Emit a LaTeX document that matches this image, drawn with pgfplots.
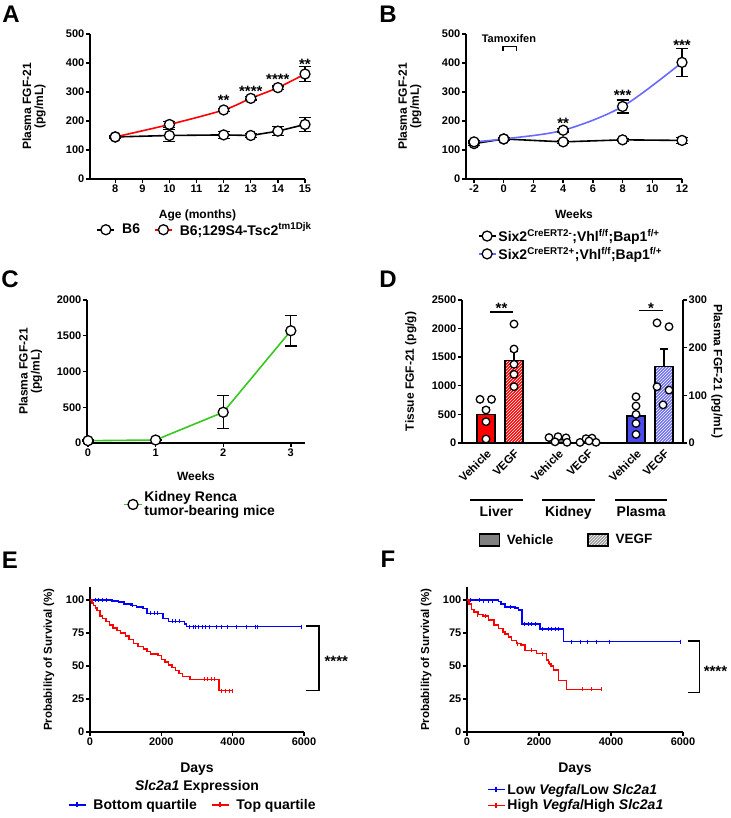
\documentclass[border=0pt]{standalone}
\usepackage{pgfplots}
\pgfplotsset{compat=1.18}
\usepackage{fontspec}
\setmainfont{Liberation Sans}
\usetikzlibrary{patterns}
\definecolor{gpred}{RGB}{255,0,0}
\definecolor{gpblueB}{RGB}{105,105,255}
\definecolor{gpblueD}{RGB}{75,75,235}
\definecolor{gpblueDh}{RGB}{110,110,240}
\definecolor{gpgreen}{RGB}{55,200,30}
\definecolor{kmblue}{RGB}{0,0,255}
\definecolor{kmred}{RGB}{255,0,0}
\newcommand{\fs}[1]{\fontsize{#1}{#1}\selectfont\bfseries}
\pgfplotsset{
  gp/.style={
    scale only axis, clip=false, anchor=south west,
    axis x line*=bottom, axis y line*=left,
    axis line style={-, line width=1.4pt, black},
    tick align=outside, major tick length=4pt,
    tick style={line width=1.4pt, black},
    tick label style={font=\fs{11}, inner sep=1.5pt},
    label style={font=\fs{12}},
    /pgf/number format/assume math mode=true,
    /pgf/number format/1000 sep={},
    legend style={draw=none, fill=none, font=\fs{14}},
    legend cell align=left,
    ylabel style={align=center},
  },
  ptline/.style={line width=1.6pt, mark=*, mark size=5pt, mark options={fill=white, draw=black, line width=1.3pt, solid}},
  ebars/.style={/pgfplots/error bars/y dir=both, /pgfplots/error bars/y explicit,
    /pgfplots/error bars/error bar style={line width=1.3pt, black},
    /pgfplots/error bars/error mark options={rotate=90, line width=1.3pt, mark size=6pt, black}},
  ebarsup/.style={/pgfplots/error bars/y dir=plus, /pgfplots/error bars/y explicit,
    /pgfplots/error bars/error bar style={line width=1.2pt, black},
    /pgfplots/error bars/error mark options={rotate=90, line width=1.2pt, mark size=4pt, black}},
  dots/.style={only marks, mark=*, mark size=3.8pt, mark options={fill=white, draw=black, line width=1.3pt}},
  km/.style={const plot, line width=1.5pt},
  cens/.style={only marks, mark=|, mark size=2pt, line width=1pt},
}
\begin{document}
\begin{tikzpicture}
\path[use as bounding box] (0,0) rectangle (730pt,818pt);

% ---------------- A ----------------
\begin{axis}[gp, at={(90pt,639pt)}, width=215pt, height=145pt,
  xmin=7.07, xmax=15, ymin=0, ymax=500, xtick={8,...,15}, ytick={0,100,...,500},
  xlabel={Age (months)}, ylabel={Plasma FGF-21\\(pg/mL)},
  xlabel style={at={(axis description cs:0.5,-0.19)}, anchor=north},
  ylabel style={at={(axis description cs:-0.19,0.5)}, anchor=south},
  legend columns=2,
  legend style={at={(axis description cs:0.535,-0.35)}, anchor=center,
    /tikz/every odd column/.append style={column sep=5pt},
    /tikz/every even column/.append style={column sep=12pt}},
]
\addplot[black, ptline, ebars] coordinates {(8,145) +- (0,4) (10,150) +- (0,20) (12,152) +- (0,12) (13,150) +- (0,6) (14,165) +- (0,15) (15,188) +- (0,25)};
\addlegendentry{B6}
\addplot[gpred, ptline, smooth, ebars] coordinates {(8,145) +- (0,3) (10,188) +- (0,10) (12,238) +- (0,6) (13,278) +- (0,6) (14,315) +- (0,6) (15,362) +- (0,26)};
\addlegendentry{B6;129S4-Tsc2\textsuperscript{tm1Djk}}
\node[font=\fs{15}] at (axis cs:12,270) {**};
\node[font=\fs{15}] at (axis cs:13,303) {****};
\node[font=\fs{15}] at (axis cs:14,345) {****};
\node[font=\fs{15}] at (axis cs:15,397) {**};
\end{axis}

% ---------------- B ----------------
\begin{axis}[gp, at={(466pt,639pt)}, width=216pt, height=145pt,
  xmin=-2.54, xmax=12, ymin=0, ymax=500, xtick={-2,0,...,12}, ytick={0,100,...,500},
  xlabel={Weeks}, ylabel={Plasma FGF-21\\(pg/mL)},
  xlabel style={at={(axis description cs:0.5,-0.19)}, anchor=north},
  ylabel style={at={(axis description cs:-0.19,0.5)}, anchor=south},
  legend style={at={(axis description cs:0.486,-0.455)}, anchor=center,
    /tikz/every row/.append style={row sep=2pt}},
]
\addplot[black, ptline, ebars] coordinates {(-2,122) +- (0,6) (0,138) +- (0,5) (4,128) +- (0,5) (8,135) +- (0,5) (12,133) +- (0,10)};
\addlegendentry{Six2\textsuperscript{CreERT2-};Vhl\textsuperscript{f/f};Bap1\textsuperscript{f/+}}
\addplot[gpblueB, ptline, smooth, ebars] coordinates {(-2,128) +- (0,5) (0,138) +- (0,5) (4,168) +- (0,6) (8,250) +- (0,22) (12,402) +- (0,48)};
\addlegendentry{Six2\textsuperscript{CreERT2+};Vhl\textsuperscript{f/f};Bap1\textsuperscript{f/+}}
\draw[line width=1.3pt] (axis cs:-0.05,443) -- (axis cs:-0.05,457) -- (axis cs:0.85,457) -- (axis cs:0.85,443);
\node[font=\fs{11}] at (axis cs:0.35,484) {Tamoxifen};
\node[font=\fs{15}] at (axis cs:4,193) {**};
\node[font=\fs{15}] at (axis cs:8,290) {***};
\node[font=\fs{15}] at (axis cs:12,462) {***};
\end{axis}

% ---------------- C ----------------
\begin{axis}[gp, at={(87pt,375pt)}, width=218pt, height=143pt,
  xmin=-0.015, xmax=3.21, ymin=0, ymax=2000, xtick={0,1,2,3}, ytick={0,500,...,2000},
  xlabel={Weeks}, ylabel={Plasma FGF-21\\(pg/mL)},
  xlabel style={at={(axis description cs:0.5,-0.18)}, anchor=north},
  ylabel style={at={(axis description cs:-0.19,0.5)}, anchor=south},
  legend style={at={(axis description cs:0.52,-0.43)}, anchor=center, cells={align=left}},
]
\addplot[gpgreen, ptline, ebars] coordinates {(0,32) +- (0,10) (1,42) +- (0,10) (2,430) +- (0,232) (3,1570) +- (0,215)};
\addlegendentry{Kidney Renca\\tumor-bearing mice}
\end{axis}

% ---------------- D (left axis) ----------------
\begin{axis}[gp, at={(462pt,375pt)}, width=221pt, height=143pt,
  xmin=0, xmax=22.1, ymin=0, ymax=2500, ytick={0,500,...,2500},
  xtick={2.4,5.2,9.6,12.6,17.4,20.2},
  xticklabels={Vehicle,VEGF,Vehicle,VEGF,Vehicle,VEGF},
  xtick style={draw=none},
  xticklabel style={rotate=45, anchor=north east, font=\fs{11.5}, inner sep=1pt},
  ylabel={Tissue FGF-21 (pg/g)},
  ylabel style={at={(axis description cs:-0.19,0.5)}, anchor=south},
  legend columns=2,
  legend style={at={(axis description cs:0.473,-0.678)}, anchor=center, font=\fs{13.5},
    /tikz/every odd column/.append style={column sep=5pt},
    /tikz/every even column/.append style={column sep=32pt}},
]
\addlegendimage{legend image code/.code={\draw[fill=gray, draw=black, line width=1.3pt] (0pt,-6pt) rectangle (20pt,6pt);}}
\addlegendentry{Vehicle}
\addlegendimage{legend image code/.code={\draw[fill=gray!80, draw=black, line width=1.3pt, postaction={pattern=north east lines, pattern color=white}] (0pt,-6pt) rectangle (20pt,6pt);}}
\addlegendentry{VEGF}
\addplot[forget plot, ybar, bar width=18pt, bar shift=0pt, fill=gpred, draw=black, line width=1.2pt, ebarsup] coordinates {(2.4,501) +- (0,116)};
\addplot[forget plot, ybar, bar width=18pt, bar shift=0pt, fill=gpred, draw=black, line width=1.2pt, postaction={pattern=north east lines, pattern color=white}, ebarsup] coordinates {(5.2,1446) +- (0,150)};
\addplot[forget plot, ybar, bar width=18pt, bar shift=0pt, fill=gray, draw=black, line width=1.2pt] coordinates {(9.6,60)};
\addplot[forget plot, ybar, bar width=18pt, bar shift=0pt, fill=gray, draw=black, line width=1.2pt, postaction={pattern=north east lines, pattern color=white}] coordinates {(12.6,40)};
\addplot[forget plot, dots] coordinates {(1.8,763) (2.95,763) (2.4,577) (2.4,373) (2.4,70)};
\addplot[forget plot, dots] coordinates {(5.2,2080) (5.2,1643) (5.2,1376) (5.2,1201) (5.2,985)};
\addplot[forget plot, dots] coordinates {(8.7,95) (9.6,110) (10.4,90) (9.3,20) (10.5,12)};
\addplot[forget plot, dots] coordinates {(11.8,10) (12.4,75) (13.0,85) (13.4,12) (12.7,35)};
\draw[line width=1.4pt] (axis cs:2.8,2290) -- (axis cs:5.1,2290);
\node[font=\fs{15}] at (axis cs:3.95,2360) {**};
\end{axis}

% ---------------- D (right axis, plasma) ----------------
\begin{axis}[gp, at={(462pt,375pt)}, width=221pt, height=143pt,
  axis y line*=right, axis x line=none,
  xmin=0, xmax=22.1, ymin=0, ymax=300, ytick={0,100,200,300},
  ylabel={Plasma FGF-21 (pg/mL)},
  ylabel style={at={(axis description cs:1.112,0.5)}, anchor=south, rotate=180},
]
\addplot[forget plot, ybar, bar width=18pt, bar shift=0pt, fill=gpblueD, draw=black, line width=1.2pt] coordinates {(17.4,56.5)};
\addplot[forget plot, ybar, bar width=18pt, bar shift=0pt, fill=gpblueDh, draw=black, line width=1.2pt, postaction={pattern=north east lines, pattern color=white}, ebarsup] coordinates {(20.2,161) +- (0,36)};
\addplot[forget plot, dots] coordinates {(17.4,97) (17.4,77.6) (17.4,60) (17.4,41) (17.4,18)};
\addplot[forget plot, dots] coordinates {(19.5,252) (20.7,244) (19.5,118) (20.7,111) (20.1,80)};
\draw[line width=1.4pt] (axis cs:17.7,277.5) -- (axis cs:20.07,277.5);
\node[font=\fs{15}] at (axis cs:18.9,283.5) {*};
\end{axis}

% ---------------- E ----------------
\begin{axis}[gp, at={(90pt,86pt)}, width=214pt, height=145pt,
  xmin=0, xmax=6000, ymin=0, ymax=110, xtick={0,2000,4000,6000}, ytick={0,25,50,75,100},
  xlabel={Days}, ylabel={Probability of Survival (\%)},
  xlabel style={at={(axis description cs:0.5,-0.19)}, anchor=north, font=\fs{14}},
  ylabel style={at={(axis description cs:-0.15,0.5)}, anchor=south, font=\fs{11.5}},
  legend columns=2,
  legend style={at={(axis description cs:0.48,-0.503)}, anchor=center,
    /tikz/every odd column/.append style={column sep=5pt},
    /tikz/every even column/.append style={column sep=12pt}},
]
\addlegendimage{kmblue, line width=1.5pt, mark=|, mark size=2.5pt}
\addlegendentry{Bottom quartile}
\addlegendimage{kmred, line width=1.5pt, mark=|, mark size=2.5pt}
\addlegendentry{Top quartile}
\addplot[forget plot, km, kmblue] coordinates {(0,100) (560,100) (620,99.3) (800,98.5) (950,97) (1150,96) (1300,95) (1480,93.5) (1600,90) (1980,90) (2050,86) (2200,84) (2650,82) (2700,80) (5950,80)};
\addplot[forget plot, cens, kmblue] coordinates {(150,100) (250,100) (350,100) (450,100) (1200,96) (1700,90) (1800,90) (1900,90) (2300,84) (2400,84) (2500,84) (2800,80) (2900,80) (2950,80) (3050,80) (3150,80) (3250,80) (3350,80) (3550,80) (3700,80) (3850,80) (4100,80) (4400,80) (4650,80) (4700,80) (5920,80)};
\addplot[forget plot, km, kmred] coordinates {(0,100) (50,98) (100,96) (150,94) (200,92) (280,88) (350,86) (450,84) (550,81) (650,79) (750,77) (850,75) (1000,73) (1100,70) (1215,67) (1350,65) (1500,63) (1600,61) (1700,59) (1900,58) (2000,55) (2100,53) (2200,51) (2300,49) (2400,46.5) (2500,44.5) (2600,42) (2800,40) (3610,40) (3620,31.3) (4000,31.3)};
\addplot[forget plot, cens, kmred] coordinates {(3200,40) (3300,40) (3400,40) (3500,40) (3700,31.3) (3800,31.3) (3900,31.3) (4000,31.3)};
\draw[line width=1.3pt] (axis cs:6050,80.5) -- (axis cs:6420,80.5) -- (axis cs:6420,31.3) -- (axis cs:6050,31.3);
\node[font=\fs{15}, anchor=west] at (axis cs:6480,53.7) {****};
\end{axis}

% ---------------- F ----------------
\begin{axis}[gp, at={(467pt,86pt)}, width=216pt, height=145pt,
  xmin=0, xmax=6000, ymin=0, ymax=110, xtick={0,2000,4000,6000}, ytick={0,25,50,75,100},
  xlabel={Days}, ylabel={Probability of Survival (\%)},
  xlabel style={at={(axis description cs:0.5,-0.19)}, anchor=north, font=\fs{14}},
  ylabel style={at={(axis description cs:-0.148,0.5)}, anchor=south, font=\fs{11.5}},
  legend style={at={(axis description cs:0.505,-0.452)}, anchor=center,
    /tikz/every row/.append style={row sep=2pt}},
]
\addlegendimage{kmblue, line width=1.5pt, mark=|, mark size=2.5pt}
\addlegendentry{Low \textit{Vegfa}/Low \textit{Slc2a1}}
\addlegendimage{kmred, line width=1.5pt, mark=|, mark size=2.5pt}
\addlegendentry{High \textit{Vegfa}/High \textit{Slc2a1}}
\addplot[forget plot, km, kmblue] coordinates {(0,100) (870,99) (950,97) (1055,95) (1330,94) (1430,92.5) (1530,82) (2030,78) (2680,68.5) (5930,68.5)};
\addplot[forget plot, cens, kmblue] coordinates {(100,100) (350,100) (450,99) (600,99) (700,99) (1200,95) (1600,82) (1700,82) (1800,82) (1900,82) (2100,78) (2250,78) (2350,78) (2450,78) (2550,78) (2900,68.5) (3150,68.5) (3350,68.5) (3600,68.5) (3950,68.5) (5930,68.5)};
\addplot[forget plot, km, kmred] coordinates {(0,100) (60,97) (130,93) (200,91) (315,89) (450,88) (592,85) (750,81) (870,78.5) (1000,76) (1055,74.5) (1150,72) (1240,69.5) (1380,67) (1500,66) (1611,62) (1935,59.5) (2213,54.5) (2260,52) (2330,50) (2400,47) (2537,39) (2769,32.3) (3741,32.3)};
\addplot[forget plot, cens, kmred] coordinates {(300,89) (500,88) (1400,67) (1800,62) (2100,59.5) (2300,52) (3200,32.3) (3450,32.3) (3741,32.3)};
\draw[line width=1.3pt] (axis cs:6130,69) -- (axis cs:6450,69) -- (axis cs:6450,30) -- (axis cs:6130,30);
\node[font=\fs{15}, anchor=west] at (axis cs:6480,46) {****};
\end{axis}

% ---------------- annotations in pixel coordinates ----------------
\begin{scope}[x=1pt, y=-1pt, shift={(0pt,818pt)}]
\node[font=\fs{24}] at (11,14.5) {A};
\node[font=\fs{24}] at (388,14.5) {B};
\node[font=\fs{24}] at (10,279.5) {C};
\node[font=\fs{24}] at (388,279.5) {D};
\node[font=\fs{24}] at (10,560) {E};
\node[font=\fs{24}] at (388,559.5) {F};
% D group lines
\draw[line width=1.4pt] (470,500) -- (522.7,500);
\draw[line width=1.4pt] (541.7,500) -- (595,500);
\draw[line width=1.4pt] (615,500) -- (667.3,500);
\node[font=\fs{14}, anchor=base] at (496.4,517) {Liver};
\node[font=\fs{14}, anchor=base] at (568.4,517) {Kidney};
\node[font=\fs{14}, anchor=base] at (641.2,517) {Plasma};
% E legend title
\node[font=\fs{14}] at (197,787) {\textit{Slc2a1} Expression};
\end{scope}
\end{tikzpicture}
\end{document}
